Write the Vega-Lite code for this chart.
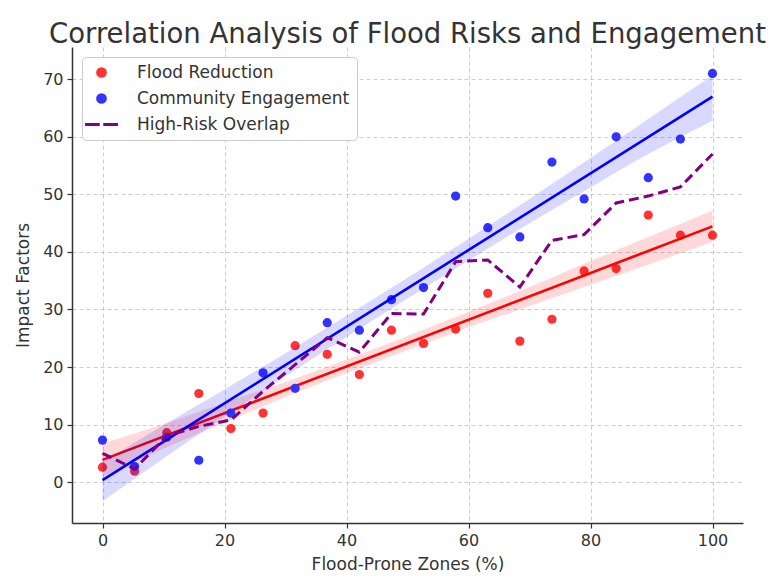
{
  "$schema": "https://vega.github.io/schema/vega-lite/v6.json",
  "width": 671,
  "height": 476,
  "autosize": {"type": "none"},
  "padding": {"left": 72, "top": 47, "right": 25, "bottom": 55},
  "background": "white",
  "title": {
    "text": "Correlation Analysis of Flood Risks and Engagement",
    "font": "DejaVu Sans",
    "fontSize": 27.5,
    "fontWeight": "normal",
    "color": "#333333",
    "anchor": "middle",
    "baseline": "alphabetic",
    "offset": 8,
    "dx": 0,
    "dy": 31
  },
  "config": {
    "view": {"stroke": null},
    "font": "DejaVu Sans",
    "axis": {
      "labelFont": "DejaVu Sans",
      "titleFont": "DejaVu Sans",
      "labelFontSize": 16,
      "titleFontSize": 17,
      "titleFontWeight": "normal",
      "labelColor": "#333333",
      "titleColor": "#333333",
      "domainColor": "#333333",
      "domainWidth": 1.5,
      "tickColor": "#333333",
      "tickSize": 5,
      "tickWidth": 1.2,
      "grid": true,
      "gridColor": "#b0b0b0",
      "gridOpacity": 0.7,
      "gridDash": [4, 3],
      "gridWidth": 0.9,
      "labelPadding": 4
    }
  },
  "datasets": {
    "pts": [
      {"x": 0, "series": "Flood Reduction", "y": 2.6},
      {"x": 5.26, "series": "Flood Reduction", "y": 1.9},
      {"x": 10.53, "series": "Flood Reduction", "y": 8.6},
      {"x": 15.79, "series": "Flood Reduction", "y": 15.4},
      {"x": 21.05, "series": "Flood Reduction", "y": 9.3},
      {"x": 26.32, "series": "Flood Reduction", "y": 12.0},
      {"x": 31.58, "series": "Flood Reduction", "y": 23.7},
      {"x": 36.84, "series": "Flood Reduction", "y": 22.2},
      {"x": 42.11, "series": "Flood Reduction", "y": 18.7},
      {"x": 47.37, "series": "Flood Reduction", "y": 26.4},
      {"x": 52.63, "series": "Flood Reduction", "y": 24.1},
      {"x": 57.89, "series": "Flood Reduction", "y": 26.6},
      {"x": 63.16, "series": "Flood Reduction", "y": 32.8},
      {"x": 68.42, "series": "Flood Reduction", "y": 24.5},
      {"x": 73.68, "series": "Flood Reduction", "y": 28.3},
      {"x": 78.95, "series": "Flood Reduction", "y": 36.7},
      {"x": 84.21, "series": "Flood Reduction", "y": 37.1},
      {"x": 89.47, "series": "Flood Reduction", "y": 46.4},
      {"x": 94.74, "series": "Flood Reduction", "y": 42.9},
      {"x": 100, "series": "Flood Reduction", "y": 42.9},
      {"x": 0, "series": "Community Engagement", "y": 7.3},
      {"x": 5.26, "series": "Community Engagement", "y": 2.7},
      {"x": 10.53, "series": "Community Engagement", "y": 7.8},
      {"x": 15.79, "series": "Community Engagement", "y": 3.8},
      {"x": 21.05, "series": "Community Engagement", "y": 12.0},
      {"x": 26.32, "series": "Community Engagement", "y": 19.0},
      {"x": 31.58, "series": "Community Engagement", "y": 16.3},
      {"x": 36.84, "series": "Community Engagement", "y": 27.7},
      {"x": 42.11, "series": "Community Engagement", "y": 26.4},
      {"x": 47.37, "series": "Community Engagement", "y": 31.7},
      {"x": 52.63, "series": "Community Engagement", "y": 33.8},
      {"x": 57.89, "series": "Community Engagement", "y": 49.7},
      {"x": 63.16, "series": "Community Engagement", "y": 44.2},
      {"x": 68.42, "series": "Community Engagement", "y": 42.6},
      {"x": 73.68, "series": "Community Engagement", "y": 55.6},
      {"x": 78.95, "series": "Community Engagement", "y": 49.2},
      {"x": 84.21, "series": "Community Engagement", "y": 60.0},
      {"x": 89.47, "series": "Community Engagement", "y": 52.9},
      {"x": 94.74, "series": "Community Engagement", "y": 59.6},
      {"x": 100, "series": "Community Engagement", "y": 71.0},
      {"x": 0, "series": "High-Risk Overlap", "y": 5.0},
      {"x": 5.26, "series": "High-Risk Overlap", "y": 2.3},
      {"x": 10.53, "series": "High-Risk Overlap", "y": 8.0},
      {"x": 15.79, "series": "High-Risk Overlap", "y": 9.7},
      {"x": 21.05, "series": "High-Risk Overlap", "y": 10.8},
      {"x": 26.32, "series": "High-Risk Overlap", "y": 15.8},
      {"x": 31.58, "series": "High-Risk Overlap", "y": 20.4},
      {"x": 36.84, "series": "High-Risk Overlap", "y": 25.1},
      {"x": 42.11, "series": "High-Risk Overlap", "y": 22.6},
      {"x": 47.37, "series": "High-Risk Overlap", "y": 29.3},
      {"x": 52.63, "series": "High-Risk Overlap", "y": 29.2},
      {"x": 57.89, "series": "High-Risk Overlap", "y": 38.3},
      {"x": 63.16, "series": "High-Risk Overlap", "y": 38.6},
      {"x": 68.42, "series": "High-Risk Overlap", "y": 33.9},
      {"x": 73.68, "series": "High-Risk Overlap", "y": 42.0},
      {"x": 78.95, "series": "High-Risk Overlap", "y": 43.0},
      {"x": 84.21, "series": "High-Risk Overlap", "y": 48.5},
      {"x": 89.47, "series": "High-Risk Overlap", "y": 49.7},
      {"x": 94.74, "series": "High-Risk Overlap", "y": 51.3},
      {"x": 100, "series": "High-Risk Overlap", "y": 57.0}
    ],
    "bands": [
      {"x": 0, "series": "Flood Reduction", "lo": 1.0, "hi": 6.7},
      {"x": 10, "series": "Flood Reduction", "lo": 5.8, "hi": 10.1},
      {"x": 20, "series": "Flood Reduction", "lo": 10.3, "hi": 13.8},
      {"x": 30, "series": "Flood Reduction", "lo": 14.8, "hi": 17.4},
      {"x": 40, "series": "Flood Reduction", "lo": 18.9, "hi": 21.3},
      {"x": 50, "series": "Flood Reduction", "lo": 22.9, "hi": 25.4},
      {"x": 60, "series": "Flood Reduction", "lo": 26.9, "hi": 29.6},
      {"x": 70, "series": "Flood Reduction", "lo": 30.6, "hi": 33.9},
      {"x": 80, "series": "Flood Reduction", "lo": 34.3, "hi": 38.4},
      {"x": 90, "series": "Flood Reduction", "lo": 38.0, "hi": 42.8},
      {"x": 100, "series": "Flood Reduction", "lo": 41.7, "hi": 47.2},
      {"x": 0, "series": "Community Engagement", "lo": -3.3, "hi": 3.5},
      {"x": 10, "series": "Community Engagement", "lo": 4.1, "hi": 9.9},
      {"x": 20, "series": "Community Engagement", "lo": 11.3, "hi": 16.1},
      {"x": 30, "series": "Community Engagement", "lo": 18.4, "hi": 22.4},
      {"x": 40, "series": "Community Engagement", "lo": 25.2, "hi": 28.9},
      {"x": 50, "series": "Community Engagement", "lo": 31.9, "hi": 35.5},
      {"x": 60, "series": "Community Engagement", "lo": 38.5, "hi": 42.3},
      {"x": 70, "series": "Community Engagement", "lo": 45.0, "hi": 49.2},
      {"x": 80, "series": "Community Engagement", "lo": 51.2, "hi": 56.3},
      {"x": 90, "series": "Community Engagement", "lo": 57.3, "hi": 63.5},
      {"x": 100, "series": "Community Engagement", "lo": 62.8, "hi": 70.7}
    ]
  },
  "encoding": {
    "x": {
      "field": "x",
      "type": "quantitative",
      "title": "Flood-Prone Zones (%)",
      "scale": {"domain": [-5, 105], "nice": false, "zero": false},
      "axis": {"values": [0, 20, 40, 60, 80, 100], "titlePadding": 8}
    }
  },
  "layer": [
    {
      "data": {"name": "pts"},
      "transform": [{"filter": "datum.series === 'Flood Reduction'"}],
      "mark": {"type": "point", "filled": true, "opacity": 1, "size": 85},
      "encoding": {
        "y": {
          "field": "y",
          "type": "quantitative",
          "title": "Impact Factors",
          "scale": {"domain": [-7.1, 75.6], "nice": false, "zero": false},
          "axis": {"values": [0, 10, 20, 30, 40, 50, 60, 70], "titlePadding": 10}
        },
        "color": {
          "field": "series",
          "type": "nominal",
          "scale": {
            "domain": ["Flood Reduction", "Community Engagement", "High-Risk Overlap"],
            "range": ["#ff3333", "#3333ff", "#800080"]
          },
          "legend": {
            "title": null,
            "orient": "top-left",
            "offset": 10,
            "padding": 7,
            "strokeColor": "#cccccc",
            "fillColor": "white",
            "cornerRadius": 4,
            "labelFont": "DejaVu Sans",
            "labelFontSize": 17,
            "labelColor": "#333333",
            "labelLimit": 400,
            "rowPadding": 8,
            "symbolSize": 85,
            "symbolOffset": 4,
            "labelOffset": 27
          }
        },
        "shape": {
          "field": "series",
          "type": "nominal",
          "scale": {
            "domain": ["Flood Reduction", "Community Engagement", "High-Risk Overlap"],
            "range": ["circle", "circle", "M-3.4,-0.17H-0.55V0.17H-3.4ZM0.55,-0.17H3.4V0.17H0.55Z"]
          }
        }
      }
    },
    {
      "data": {"name": "bands"},
      "transform": [{"filter": "datum.series === 'Flood Reduction'"}],
      "mark": {"type": "area", "color": "#ff0000", "opacity": 0.15, "interpolate": "monotone"},
      "encoding": {
        "y": {"field": "lo", "type": "quantitative"},
        "y2": {"field": "hi"}
      }
    },
    {
      "data": {"name": "pts"},
      "transform": [
        {"filter": "datum.series === 'Flood Reduction'"},
        {"regression": "y", "on": "x", "extent": [0, 100]}
      ],
      "mark": {"type": "line", "color": "#ff0000", "strokeWidth": 2.6},
      "encoding": {"y": {"field": "y", "type": "quantitative"}}
    },
    {
      "data": {"name": "pts"},
      "transform": [{"filter": "datum.series === 'Community Engagement'"}],
      "mark": {"type": "point", "filled": true, "opacity": 1, "size": 85},
      "encoding": {
        "y": {"field": "y", "type": "quantitative"},
        "color": {"field": "series", "type": "nominal"},
        "shape": {"field": "series", "type": "nominal"}
      }
    },
    {
      "data": {"name": "bands"},
      "transform": [{"filter": "datum.series === 'Community Engagement'"}],
      "mark": {"type": "area", "color": "#0000ff", "opacity": 0.15, "interpolate": "monotone"},
      "encoding": {
        "y": {"field": "lo", "type": "quantitative"},
        "y2": {"field": "hi"}
      }
    },
    {
      "data": {"name": "pts"},
      "transform": [
        {"filter": "datum.series === 'Community Engagement'"},
        {"regression": "y", "on": "x", "extent": [0, 100]}
      ],
      "mark": {"type": "line", "color": "#0000ff", "strokeWidth": 2.6},
      "encoding": {"y": {"field": "y", "type": "quantitative"}}
    },
    {
      "data": {"name": "pts"},
      "transform": [{"filter": "datum.series === 'High-Risk Overlap'"}],
      "mark": {"type": "line", "strokeWidth": 3, "strokeDash": [10, 5]},
      "encoding": {
        "y": {"field": "y", "type": "quantitative"},
        "color": {"field": "series", "type": "nominal"}
      }
    }
  ]
}
